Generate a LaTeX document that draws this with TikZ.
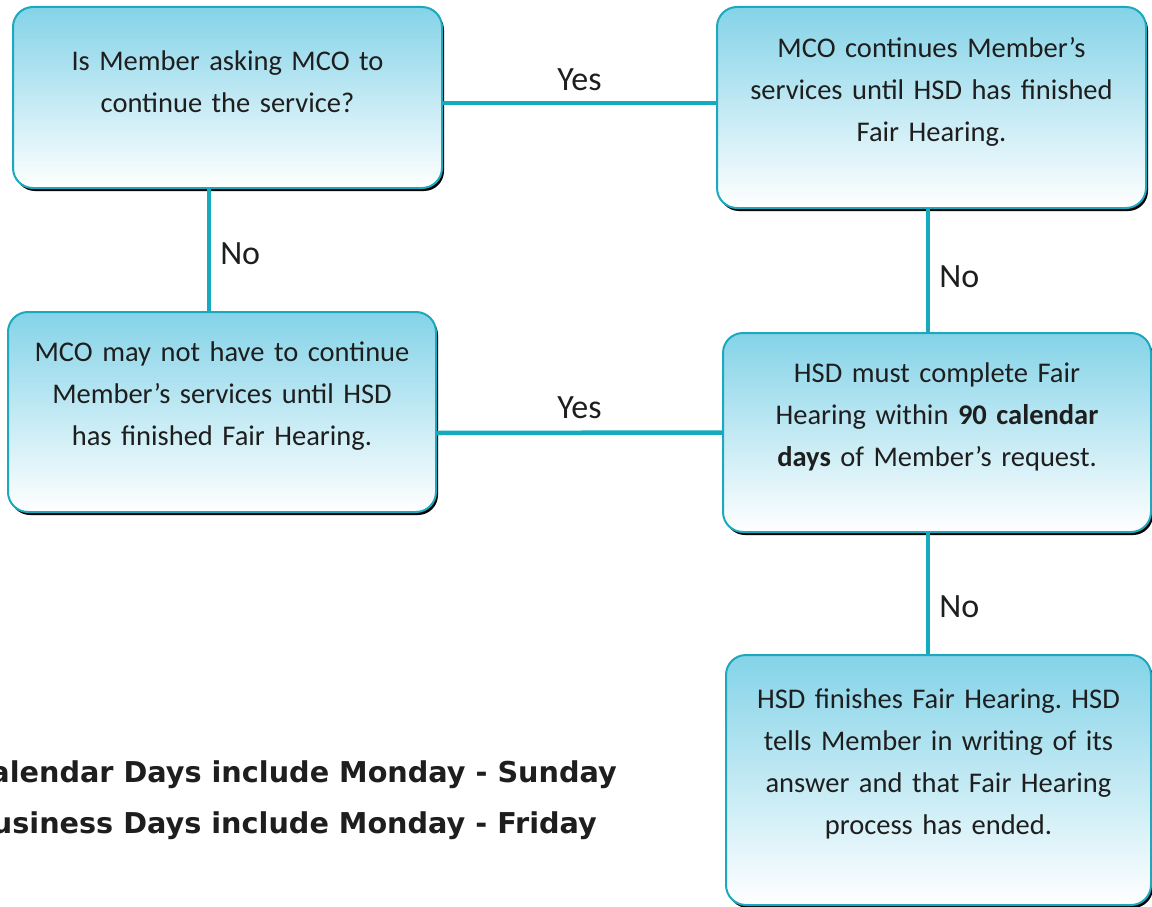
\documentclass[tikz,border=0pt]{standalone}
\usepackage{fontspec}
\setmainfont{Carlito}
\newfontfamily\notefont{DejaVu Sans}
\usetikzlibrary{shadows}
\frenchspacing

\definecolor{boxtop}{RGB}{132,211,232}
\definecolor{boxline}{RGB}{30,168,189}
\definecolor{linkcol}{RGB}{22,170,190}
\definecolor{ink}{RGB}{30,30,30}

\begin{document}
\begin{tikzpicture}[
    x=1pt, y=-1pt,
    flowbox/.style={
      draw=boxline,
      line width=2pt,
      rounded corners=20pt,
      top color=boxtop,
      bottom color=white,
      drop shadow={shadow xshift=2pt, shadow yshift=-3pt, opacity=1, fill=black},
      text width=400pt,
      align=center,
      text=ink,
      font=\fontsize{28.5}{42}\selectfont,
      execute at end node={\endgraf\vspace*{32pt}}
    },
    link/.style={draw=linkcol, line width=4.5pt},
    answer/.style={text=ink, font=\fontsize{34}{40}\selectfont},
    note/.style={text=ink, inner sep=0pt, font=\notefont\bfseries\fontsize{28.7}{32}\selectfont}
  ]

  \useasboundingbox (0,0) rectangle (1152,907);

  % Boxes
  \node[flowbox, minimum width=429pt, minimum height=181pt] (ask) at (227.5,97.5)
    {Is Member asking MCO to\\ continue the service?};
  \node[flowbox, minimum width=429pt, minimum height=201pt] (keep) at (931.5,107.5)
    {MCO continues Member’s\\ services until HSD has finished\\ Fair Hearing.};
  \node[flowbox, minimum width=428pt, minimum height=200pt] (maynot) at (222,412)
    {MCO may not have to continue\\ Member’s services until HSD\\ has finished Fair Hearing.};
  \node[flowbox, minimum width=428pt, minimum height=199pt] (complete) at (937,432.5)
    {HSD must complete Fair\\ Hearing within \textbf{90 calendar}\\ \textbf{days} of Member’s request.};
  \node[flowbox, minimum width=425pt, minimum height=250pt] (finish) at (938.5,780)
    {HSD finishes Fair Hearing. HSD\\ tells Member in writing of its\\ answer and that Fair Hearing\\ process has ended.};

  % Links
  \draw[link] ([yshift=-5.5pt]ask.east) -- node[answer, above=7pt] {Yes} ([yshift=4.5pt]keep.west);
  \draw[link] ([xshift=-18.5pt]ask.south) -- node[answer, right=5.7pt, pos=0.53] {No} ([xshift=-13pt]maynot.north);
  \draw[link] ([xshift=-3.5pt]keep.south) -- node[answer, right=5.7pt, pos=0.55] {No} ([xshift=-9pt]complete.north);
  \draw[link] ([yshift=-21pt]maynot.east) -- node[answer, above=8pt] {Yes} (complete.west);
  \draw[link] ([xshift=-9pt]complete.south) -- node[answer, right=5.7pt, pos=0.61] {No} ([xshift=-10.5pt]finish.north);

  % Notes
  \node[note, anchor=base east] (calendar) at (617,782) {Calendar Days include Monday - Sunday};
  \node[note, anchor=base east] (business) at (597,833) {Business Days include Monday - Friday};

\end{tikzpicture}
\end{document}
